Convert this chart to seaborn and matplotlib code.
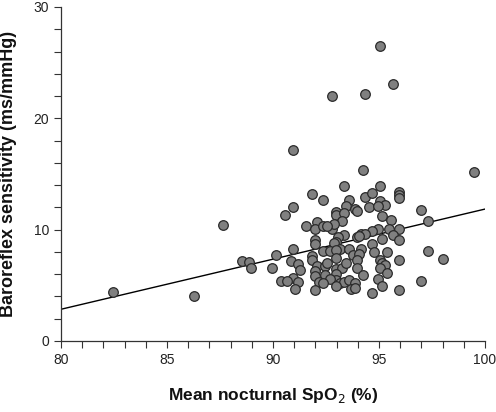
import matplotlib
matplotlib.use("Agg")
import matplotlib.pyplot as plt
import matplotlib.font_manager as fm
import seaborn as sns
import pandas as pd
from matplotlib.ticker import MultipleLocator

spo2 = [95.06, 95.66, 92.77, 94.36, 90.96, 94.25, 99.47, 93.37, 95.06, 91.86,
        92.38, 95.96, 95.96, 95.96, 94.36, 94.67, 93.57, 95.06, 95.27, 93.46,
        93.85, 93.96, 94.55, 94.97, 90.96, 97.00, 90.57, 92.96, 92.96, 93.37,
        95.16, 93.27, 95.57, 97.31, 87.66, 91.56, 92.06, 91.96, 92.38, 92.77,
        92.86, 92.56, 94.97, 95.47, 95.96, 94.67, 95.16, 95.66, 95.96, 93.37,
        93.96, 94.16, 94.36, 94.06, 93.06, 91.96, 91.96, 92.96, 92.86, 94.67,
        93.16, 93.57, 94.16, 90.96, 92.36, 92.67, 92.96, 94.77, 95.36, 97.31,
        98.04, 95.96, 90.16, 91.86, 92.96, 93.76, 94.06, 93.96, 88.55, 88.85,
        88.96, 89.97, 90.86, 91.16, 91.26, 91.86, 92.06, 92.45, 92.56, 92.96,
        93.27, 93.46, 93.96, 95.06, 95.16, 95.27, 95.06, 95.36, 91.96, 91.96,
        92.45, 92.96, 92.96, 92.67, 94.25, 94.97, 90.96, 90.36, 90.65, 91.16,
        92.17, 92.36, 93.16, 93.37, 93.57, 93.85, 92.96, 93.66, 93.85, 91.05,
        91.96, 94.67, 95.16, 95.96, 97.00, 82.45, 86.26]

brs = [26.5, 23.1, 22.0, 22.2, 17.2, 15.4, 15.2, 13.9, 13.9, 13.2,
       12.7, 13.4, 13.1, 12.8, 12.9, 13.3, 12.7, 12.6, 12.2, 12.1,
       11.9, 11.7, 12.0, 12.1, 12.0, 11.8, 11.3, 11.6, 11.3, 11.5,
       11.2, 10.8, 10.9, 10.8, 10.4, 10.3, 10.7, 10.1, 10.3, 10.1,
       10.5, 10.3, 10.1, 10.1, 10.1, 9.9, 9.2, 9.5, 9.1, 9.5,
       9.3, 9.6, 9.6, 9.4, 9.3, 9.1, 8.7, 8.9, 8.8, 8.7,
       8.3, 8.3, 8.3, 8.3, 8.1, 8.1, 8.2, 8.0, 8.0, 8.1,
       7.4, 7.3, 7.7, 7.6, 7.5, 7.7, 7.8, 7.3, 7.2, 7.1,
       6.6, 6.6, 7.2, 6.9, 6.4, 7.3, 6.7, 6.7, 7.0, 6.5,
       6.6, 7.0, 6.6, 7.3, 7.0, 6.8, 6.6, 6.1, 6.3, 5.8,
       5.9, 6.0, 5.5, 5.6, 5.9, 5.6, 5.7, 5.4, 5.4, 5.3,
       5.3, 5.2, 5.2, 5.3, 5.5, 5.2, 4.9, 4.7, 4.8, 4.7,
       4.6, 4.3, 4.9, 4.6, 5.4, 4.4, 4.0]

fit_x = [80, 100]
fit_y = [2.85, 11.85]

sns.set_style("ticks")
plt.rcParams["font.family"] = ["Liberation Sans", "DejaVu Sans"]

df = pd.DataFrame({"x": spo2, "y": brs})
fig = plt.figure(figsize=(4.96, 4.12), dpi=100)
ax = fig.add_axes([61/496, 71/412, 424/496, 334/412])

sns.lineplot(x=fit_x, y=fit_y, ax=ax, color="black", linewidth=1.0, zorder=2)
sns.scatterplot(data=df, x="x", y="y", ax=ax, s=48, color="#808080",
                edgecolor="#2a2a2a", linewidth=0.9, zorder=3, clip_on=False)

ax.set_xlim(80, 100)
ax.set_ylim(0, 30)
ax.xaxis.set_major_locator(MultipleLocator(5))
ax.xaxis.set_minor_locator(MultipleLocator(1))
ax.yaxis.set_major_locator(MultipleLocator(10))
ax.yaxis.set_minor_locator(MultipleLocator(2))
for s in ["top", "right"]:
    ax.spines[s].set_visible(False)
for s in ["left", "bottom"]:
    ax.spines[s].set_color("#333333")
    ax.spines[s].set_linewidth(0.9)
ax.tick_params(which="both", direction="out", length=5, width=0.8, color="#333333",
               labelsize=10, labelcolor="#222222")
ax.tick_params(axis="x", pad=4)
ax.set_xlabel("Mean nocturnal SpO$_2$ (%)", fontsize=12.5, fontweight="bold",
              labelpad=13, color="#111111")
ax.set_ylabel("Baroreflex sensitivity (ms/mmHg)", fontsize=13, fontweight="bold",
              labelpad=12, color="#111111")

fig.savefig("out.png", dpi=100)
